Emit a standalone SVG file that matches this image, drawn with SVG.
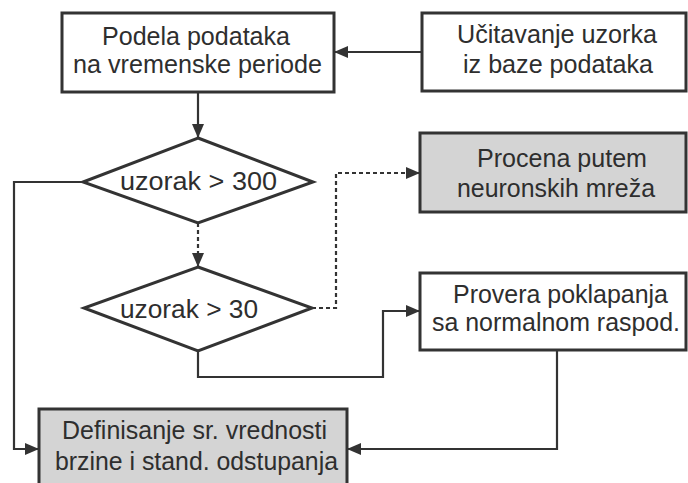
<svg xmlns="http://www.w3.org/2000/svg" width="688" height="483" viewBox="0 0 688 483">
<style>
.box{fill:#fff;stroke:#333;stroke-width:3}
.gray{fill:#d4d4d4}
.t{font-family:"Liberation Sans",Arial,sans-serif;font-size:25px;fill:#2e2e2e;text-anchor:middle}
.c{fill:none;stroke:#333;stroke-width:2.2}
.d{stroke-dasharray:4 3}
</style>
<defs>
<marker id="ah" markerUnits="userSpaceOnUse" markerWidth="14" markerHeight="12" refX="13" refY="6" orient="auto">
<path d="M0,0 L14,6 L0,12 Z" fill="#333"/>
</marker>
</defs>
<rect width="688" height="483" fill="#fff"/>
<g id="connectors">
<path class="c" d="M421,52 H335" marker-end="url(#ah)"/>
<path class="c" d="M198,92 V137" marker-end="url(#ah)"/>
<path class="c" d="M83,182 H14 V449 H38" marker-end="url(#ah)"/>
<path class="c d" d="M198,223 V266" marker-end="url(#ah)"/>
<path class="c d" d="M312,308 H336 V173 H419" marker-end="url(#ah)"/>
<path class="c" d="M198,351 V377 H383 V311 H419" marker-end="url(#ah)"/>
<path class="c" d="M557,350 V449 H348" marker-end="url(#ah)"/>
</g>
<g id="n1">
<rect class="box" x="62" y="13" width="272" height="79"/>
<text class="t" x="196" y="45" textLength="188" lengthAdjust="spacingAndGlyphs">Podela podataka</text>
<text class="t" x="197.5" y="73" textLength="249" lengthAdjust="spacingAndGlyphs">na vremenske periode</text>
</g>
<g id="n2">
<rect class="box" x="422" y="13" width="264" height="78"/>
<text class="t" x="557" y="43" textLength="200" lengthAdjust="spacingAndGlyphs">Učitavanje uzorka</text>
<text class="t" x="558" y="73" textLength="190" lengthAdjust="spacingAndGlyphs">iz baze podataka</text>
</g>
<g id="n3">
<rect class="box gray" x="420" y="133" width="266" height="79"/>
<text class="t" x="562" y="167" textLength="170" lengthAdjust="spacingAndGlyphs">Procena putem</text>
<text class="t" x="556" y="197" textLength="198" lengthAdjust="spacingAndGlyphs">neuronskih mreža</text>
</g>
<g id="d1">
<polygon class="box" points="198,138 313,182 198,223 83,182"/>
<text class="t" x="198.5" y="190" textLength="157" lengthAdjust="spacingAndGlyphs">uzorak &gt; 300</text>
</g>
<g id="d2">
<polygon class="box" points="198,267 312,308 198,351 84,308"/>
<text class="t" x="189" y="318" textLength="138" lengthAdjust="spacingAndGlyphs">uzorak &gt; 30</text>
</g>
<g id="n4">
<rect class="box" x="420" y="273" width="266" height="77"/>
<text class="t" x="560.5" y="303" textLength="215" lengthAdjust="spacingAndGlyphs">Provera poklapanja</text>
<text class="t" x="556" y="331" textLength="248" lengthAdjust="spacingAndGlyphs">sa normalnom raspod.</text>
</g>
<g id="n5">
<rect class="box gray" x="39" y="409" width="308" height="90"/>
<text class="t" x="194.5" y="439" textLength="265" lengthAdjust="spacingAndGlyphs">Definisanje sr. vrednosti</text>
<text class="t" x="196.5" y="470" textLength="283" lengthAdjust="spacingAndGlyphs">brzine i stand. odstupanja</text>
</g>
</svg>
